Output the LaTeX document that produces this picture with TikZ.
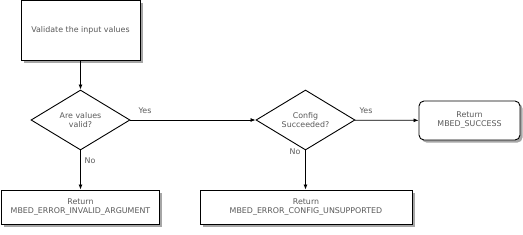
\documentclass[tikz,border=0pt]{standalone}
\usepackage{fontspec}
\setmainfont{DejaVu Sans}
\usetikzlibrary{shapes.geometric,arrows.meta,shadows}
\definecolor{txt}{RGB}{90,90,90}
\tikzset{
  every node/.style={font=\fontsize{7.9}{9}\selectfont, text=txt},
  procbox/.style={draw=black, line width=0.9pt, fill=white, align=center, inner sep=0pt,
    drop shadow={shadow xshift=2.5pt, shadow yshift=-2.5pt, fill=black!35, opacity=1}},
  decbox/.style={draw=black, line width=0.9pt, fill=white, shape=diamond, align=center,
    inner sep=0pt, minimum width=99pt, minimum height=60pt, shape aspect=1.65},
  conn/.style={draw=black, line width=0.8pt, -{Latex[length=5pt,width=4pt]}},
  lbl/.style={inner sep=0pt}
}
\begin{document}
\begin{tikzpicture}[x=1pt,y=-1pt]
\useasboundingbox (0,0) rectangle (523,234);
\node[procbox, minimum width=119pt, minimum height=59.5pt] (v) at (80.5,30.25) {Validate the input values};
\node[decbox] (d1) at (80.5,120) {Are values\\valid?};
\node[decbox] (d2) at (305.5,120) {Config\\Succeeded?};
\node[procbox, minimum width=158pt, minimum height=34pt] (e1) at (80.5,207) {Return\\MBED\_ERROR\_INVALID\_ARGUMENT};
\node[procbox, minimum width=212pt, minimum height=34pt] (e2) at (306,207) {Return\\MBED\_ERROR\_CONFIG\_UNSUPPORTED};
\node[procbox, rounded corners=5pt, minimum width=101pt, minimum height=39pt] (ok) at (469.5,120.5) {Return\\MBED\_SUCCESS};
\draw[conn] (v) -- (d1);
\draw[conn] (d1) -- (d2);
\draw[conn] (d1) -- (e1);
\draw[conn] (d2) -- (ok);
\draw[conn] (d2.south) -- (d2.south |- e2.north);
\node[lbl] (y1) at (145,111) {Yes};
\node[lbl] (n1) at (90,161) {No};
\node[lbl] (y2) at (366,111) {Yes};
\node[lbl] (n2) at (295,152) {No};
\end{tikzpicture}
\end{document}
